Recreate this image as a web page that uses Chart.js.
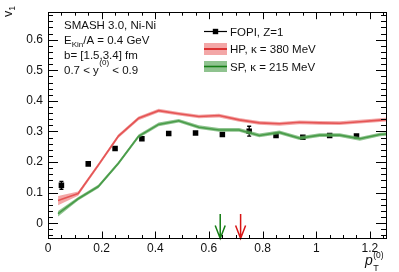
<!DOCTYPE html>
<html>
<head>
<meta charset="utf-8">
<script src="https://cdn.jsdelivr.net/npm/chart.js@4.4.1/dist/chart.umd.min.js"></script>
<style>
html,body{margin:0;padding:0;background:#fff;}
#wrap{width:399px;height:272px;position:relative;}
</style>
</head>
<body>
<div id="wrap"><canvas id="c" width="399" height="272"></canvas></div>
<script>
// ---- data ----
const simPt = [0.0375,0.1125,0.1875,0.2625,0.3375,0.4125,0.4875,0.5625,0.6375,0.7125,0.7875,0.8625,0.9375,1.0125,1.0875,1.1625,1.2375,1.3125];
const hpV1  = [0.074,0.097,0.190,0.285,0.343,0.368,0.358,0.349,0.352,0.338,0.328,0.325,0.330,0.328,0.327,0.332,0.337,0.342];
const hpErr = [0.015,0.007,0.006,0.006,0.006,0.006,0.006,0.006,0.006,0.006,0.006,0.006,0.006,0.006,0.006,0.006,0.006,0.006];
const spV1  = [0.031,0.080,0.120,0.196,0.284,0.323,0.335,0.314,0.305,0.305,0.287,0.297,0.278,0.288,0.288,0.276,0.290,0.296];
const spErr = [0.009,0.006,0.006,0.006,0.006,0.006,0.006,0.006,0.006,0.006,0.006,0.006,0.006,0.006,0.006,0.006,0.006,0.006];
const fopiPt  = [0.05,0.15,0.25,0.35,0.45,0.55,0.65,0.75,0.85,0.95,1.05,1.15];
const fopiV1  = [0.124,0.194,0.244,0.276,0.293,0.295,0.290,0.301,0.287,0.281,0.287,0.285];
const fopiErr = [0.013,0.004,0.004,0.004,0.004,0.004,0.004,0.016,0.004,0.004,0.004,0.004];
const arrowPt = [0.642, 0.718];
const arrowTop = 0.03;
const seriesNames = ['FOPI, Z=1', 'HP, \u03BA = 380 MeV', 'SP, \u03BA = 215 MeV'];
const xTickVals = [0, 0.2, 0.4, 0.6, 0.8, 1, 1.2];
const yTickVals = [0, 0.1, 0.2, 0.3, 0.4, 0.5, 0.6];

// ---- styles ----
const RED = 'rgb(215,20,20)', RED_BAND = 'rgba(236,120,120,0.65)';
const GRN = 'rgb(20,125,20)', GRN_BAND = 'rgba(95,170,95,0.70)';
const FONT = '"Liberation Sans", Arial, Helvetica, sans-serif';
const INK = '#111';

const pts = (xs, ys) => xs.map((x, i) => ({x: x, y: ys[i]}));
const shift = (ys, es, s) => ys.map((y, i) => y + s * es[i]);

const datasets = [
  {data: pts(simPt, shift(hpV1, hpErr, 1)), borderWidth: 0, pointRadius: 0, fill: false, borderColor: 'transparent'},
  {data: pts(simPt, shift(hpV1, hpErr, -1)), borderWidth: 0, pointRadius: 0, fill: '-1', backgroundColor: RED_BAND, borderColor: 'transparent'},
  {data: pts(simPt, hpV1), borderWidth: 1.6, pointRadius: 0, fill: false, borderColor: RED},
  {data: pts(simPt, shift(spV1, spErr, 1)), borderWidth: 0, pointRadius: 0, fill: false, borderColor: 'transparent'},
  {data: pts(simPt, shift(spV1, spErr, -1)), borderWidth: 0, pointRadius: 0, fill: '-1', backgroundColor: GRN_BAND, borderColor: 'transparent'},
  {data: pts(simPt, spV1), borderWidth: 1.6, pointRadius: 0, fill: false, borderColor: GRN},
  {data: pts(fopiPt, fopiV1), showLine: false, pointStyle: 'rect', pointRadius: 3.9, pointBackgroundColor: '#000', pointBorderColor: '#000', pointBorderWidth: 0}
];

const framePlugin = {
  id: 'frame',
  beforeDatasetsDraw(chart) {
    const ctx = chart.ctx, xs = chart.scales.x, ys = chart.scales.y;
    ctx.save();
    ctx.strokeStyle = '#000'; ctx.lineWidth = 1.3;
    fopiPt.forEach((x, i) => {
      const px = xs.getPixelForValue(x);
      const y1 = ys.getPixelForValue(fopiV1[i] + fopiErr[i]);
      const y2 = ys.getPixelForValue(fopiV1[i] - fopiErr[i]);
      ctx.beginPath(); ctx.moveTo(px, y1); ctx.lineTo(px, y2);
      ctx.moveTo(px - 2, y1); ctx.lineTo(px + 2, y1);
      ctx.moveTo(px - 2, y2); ctx.lineTo(px + 2, y2);
      ctx.stroke();
    });
    ctx.restore();
  },
  afterDraw(chart) {
    const ctx = chart.ctx, a = chart.chartArea, xs = chart.scales.x, ys = chart.scales.y;
    ctx.save();
    // arrows
    const arrowCol = [GRN, RED];
    arrowPt.forEach((x, i) => {
      const px = xs.getPixelForValue(x);
      const top = ys.getPixelForValue(arrowTop);
      const tip = a.bottom;
      ctx.strokeStyle = arrowCol[i]; ctx.lineWidth = 1.5;
      ctx.beginPath();
      ctx.moveTo(px, top); ctx.lineTo(px, tip);
      ctx.moveTo(px - 5, tip - 13); ctx.lineTo(px, tip); ctx.lineTo(px + 5, tip - 13);
      ctx.stroke();
    });
    // frame
    ctx.strokeStyle = '#000'; ctx.lineWidth = 1;
    ctx.strokeRect(Math.round(a.left) + 0.5, Math.round(a.top) + 0.5, Math.round(a.right - a.left), Math.round(a.bottom - a.top));
    ctx.beginPath();
    for (let k = -2; k <= 34; k++) {
      const v = k * 0.02;
      if (v < ys.min - 1e-9 || v > ys.max + 1e-9) continue;
      const py = Math.round(ys.getPixelForValue(v)) + 0.5;
      const len = (k % 5 === 0) ? 10 : 5;
      ctx.moveTo(a.left, py); ctx.lineTo(a.left + len, py);
      ctx.moveTo(a.right, py); ctx.lineTo(a.right - len, py);
    }
    for (let k = 0; k <= 25; k++) {
      const v = k * 0.05;
      if (v > xs.max + 1e-9) continue;
      const px = Math.round(xs.getPixelForValue(v)) + 0.5;
      const len = (k % 4 === 0) ? 7 : 3.5;
      ctx.moveTo(px, a.bottom); ctx.lineTo(px, a.bottom - len);
      ctx.moveTo(px, a.top); ctx.lineTo(px, a.top + len);
    }
    ctx.stroke();

    // text block
    ctx.fillStyle = INK; ctx.textBaseline = 'alphabetic'; ctx.textAlign = 'left';
    const big = '11.5px ' + FONT, small = '8px ' + FONT;
    ctx.font = big;
    ctx.fillText('SMASH 3.0, Ni-Ni', 64, 29);
    let x = 64;
    ctx.fillText('E', x, 44); x += ctx.measureText('E').width;
    ctx.font = small; ctx.fillText('Kin', x, 47); x += ctx.measureText('Kin').width;
    ctx.font = big; ctx.fillText('/A = 0.4 GeV', x, 44);
    ctx.fillText('b= [1.5,3.4] fm', 64, 58.5);
    x = 64;
    ctx.fillText('0.7 < y', x, 73.5); x += ctx.measureText('0.7 < y').width + 0.5;
    ctx.font = small; ctx.fillText('(0)', x, 64.5); x += ctx.measureText('(0)').width;
    ctx.font = big; ctx.fillText(' < 0.9', x, 73.5);

    // legend
    const lx = 204, lw = 23, tx = 230;
    ctx.strokeStyle = '#000'; ctx.lineWidth = 1.2;
    ctx.beginPath(); ctx.moveTo(lx, 31.5); ctx.lineTo(lx + lw, 31.5); ctx.stroke();
    ctx.fillStyle = '#000'; ctx.fillRect(lx + lw / 2 - 2.7, 31.5 - 2.7, 5.4, 5.4);
    ctx.fillStyle = RED_BAND; ctx.fillRect(lx, 43, lw, 12);
    ctx.strokeStyle = RED; ctx.lineWidth = 1.6;
    ctx.beginPath(); ctx.moveTo(lx, 49); ctx.lineTo(lx + lw, 49); ctx.stroke();
    ctx.fillStyle = GRN_BAND; ctx.fillRect(lx, 61, lw, 11);
    ctx.strokeStyle = GRN; ctx.lineWidth = 1.6;
    ctx.beginPath(); ctx.moveTo(lx, 66.5); ctx.lineTo(lx + lw, 66.5); ctx.stroke();
    ctx.fillStyle = INK; ctx.font = big;
    ctx.fillText(seriesNames[0], tx, 35.5);
    ctx.fillText(seriesNames[1], tx, 53);
    ctx.fillText(seriesNames[2], tx, 70.5);

    // axis titles
    ctx.save();
    ctx.translate(11.5, 17);
    ctx.rotate(-Math.PI / 2);
    ctx.font = '12.5px ' + FONT; ctx.fillText('v', 0, 0);
    const vw = ctx.measureText('v').width;
    ctx.font = '8.5px ' + FONT; ctx.fillText('1', vw, 3);
    ctx.restore();

    ctx.font = 'italic 14px ' + FONT;
    ctx.fillText('p', 365, 265);
    const pw = ctx.measureText('p').width;
    ctx.font = '9px ' + FONT; ctx.fillText('T', 365 + pw + 0.5, 270.5);
    ctx.font = '8.5px ' + FONT; ctx.fillText('(0)', 365 + pw + 0.5, 257.5);
    ctx.restore();
  }
};

new Chart(document.getElementById('c'), {
  type: 'line',
  data: {datasets: datasets},
  options: {
    responsive: false,
    animation: false,
    devicePixelRatio: 1,
    layout: {padding: {left: 0, right: 13, top: 9.5, bottom: 0}},
    plugins: {legend: {display: false}, tooltip: {enabled: false}},
    elements: {line: {tension: 0}},
    scales: {
      x: {
        type: 'linear', min: 0, max: 1.26,
        grid: {display: false, drawTicks: false}, border: {display: false},
        afterBuildTicks: s => { s.ticks = xTickVals.map(v => ({value: v})); },
        ticks: {padding: 3, color: INK, font: {family: FONT, size: 12}, maxRotation: 0,
          callback: v => String(+v.toFixed(2))},
        afterFit: s => { s.height = 33.5; }
      },
      y: {
        type: 'linear', min: -0.05, max: 0.69,
        grid: {display: false, drawTicks: false}, border: {display: false},
        afterBuildTicks: s => { s.ticks = yTickVals.map(v => ({value: v})); },
        ticks: {padding: 5, color: INK, font: {family: FONT, size: 12},
          callback: v => String(+v.toFixed(2))},
        afterFit: s => { s.width = 48; }
      }
    }
  },
  plugins: [framePlugin]
});
</script>
</body>
</html>
